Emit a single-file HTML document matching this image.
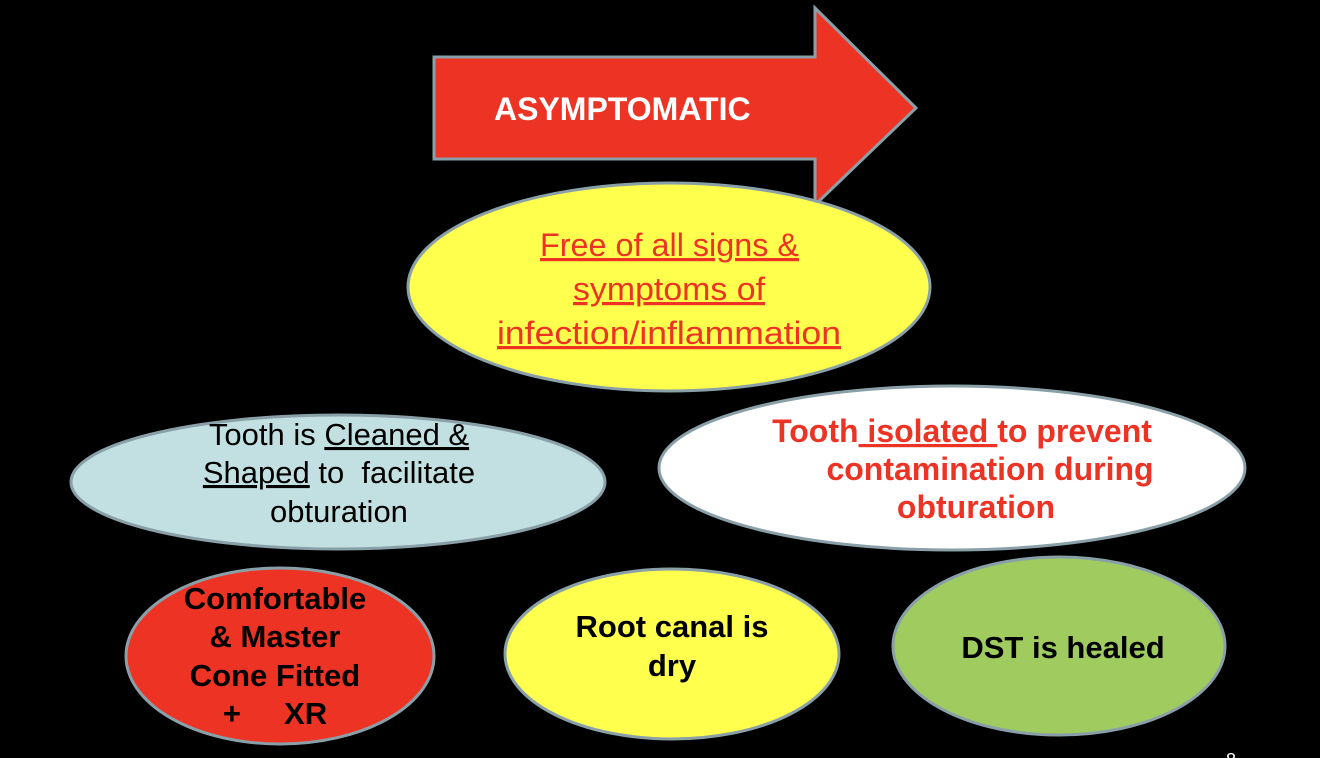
<!DOCTYPE html>
<html><head><meta charset="utf-8"><style>
body{margin:0;background:#000;width:1320px;height:758px;overflow:hidden}
svg{display:block}
text{font-family:"Liberation Sans",Arial,sans-serif;white-space:pre}
.u{text-decoration:underline}
</style></head><body>
<svg width="1320" height="758" viewBox="0 0 1320 758">
<polygon points="434,57 815,57 815,8 916,108 815,205 815,159 434,159" fill="#ec3324" stroke="#8aa0a8" stroke-width="3"/>
<text x="494" y="120" font-size="32" font-weight="bold" fill="#fff">ASYMPTOMATIC</text>

<ellipse cx="669" cy="287" rx="261" ry="104" fill="#ffff4d" stroke="#8aa0a8" stroke-width="3"/>
<g font-size="32" fill="#ec3324" class="u">
<text x="540" y="256" textLength="259" lengthAdjust="spacingAndGlyphs">Free of all signs &amp;</text>
<text x="573" y="300" textLength="192" lengthAdjust="spacingAndGlyphs">symptoms of</text>
<text x="497" y="344" textLength="344" lengthAdjust="spacingAndGlyphs">infection/inflammation</text>
</g>

<ellipse cx="338" cy="482" rx="267" ry="67" fill="#c2e0e2" stroke="#8aa0a8" stroke-width="3"/>
<g font-size="31" fill="#000" text-anchor="middle">
<text x="339" y="445">Tooth is <tspan class="u">Cleaned &amp;</tspan></text>
<text x="339" y="483"><tspan class="u">Shaped</tspan> to  facilitate</text>
<text x="339" y="522">obturation</text>
</g>

<ellipse cx="952" cy="468" rx="293" ry="82" fill="#fff" stroke="#8aa0a8" stroke-width="3"/>
<g font-size="32" font-weight="bold" fill="#ec3324" text-anchor="middle">
<text x="962" y="442">Tooth<tspan class="u"> isolated </tspan>to prevent</text>
<text x="990" y="480">contamination during</text>
<text x="976" y="518">obturation</text>
</g>

<ellipse cx="280" cy="656" rx="154" ry="88" fill="#ec3324" stroke="#8aa0a8" stroke-width="3"/>
<g font-size="31" font-weight="bold" fill="#000" text-anchor="middle">
<text x="275" y="609">Comfortable</text>
<text x="275" y="647">&amp; Master</text>
<text x="275" y="686">Cone Fitted</text>
<text x="275" y="724">+     XR</text>
</g>

<ellipse cx="672" cy="654" rx="167" ry="85" fill="#ffff4d" stroke="#8aa0a8" stroke-width="3"/>
<g font-size="31" font-weight="bold" fill="#000" text-anchor="middle">
<text x="672" y="637">Root canal is</text>
<text x="672" y="676">dry</text>
</g>

<ellipse cx="1059" cy="646" rx="166" ry="89" fill="#9fcb5f" stroke="#8aa0a8" stroke-width="3"/>
<text x="1063" y="658" font-size="31" font-weight="bold" fill="#000" text-anchor="middle">DST is healed</text>

<text x="1226" y="766" font-size="18" fill="#fff">8</text>
</svg>
</body></html>
